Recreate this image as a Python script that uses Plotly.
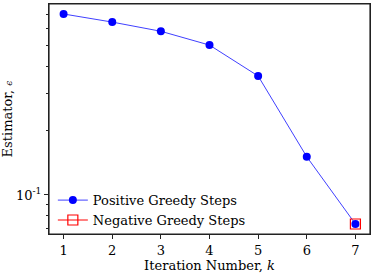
import plotly.graph_objects as go

iterations = [1, 2, 3, 4, 5, 6, 7]
positive_values = [0.705, 0.646, 0.585, 0.504, 0.361, 0.151, 0.0731]
negative_iters = [7]
negative_values = [0.0731]
y_tick_vals = [0.1]
y_tick_text = ["10<sup>-1</sup>"]
y_minor_vals = [0.07, 0.08, 0.09, 0.2, 0.3, 0.4, 0.5, 0.6, 0.7, 0.8]

font_family = "DejaVu Serif"

fig = go.Figure()
fig.add_trace(go.Scatter(
    x=iterations, y=positive_values, mode="lines+markers",
    name="Positive Greedy Steps",
    line=dict(color="rgba(0,0,255,0.75)", width=1),
    marker=dict(color="blue", size=8, symbol="circle"),
))
fig.add_trace(go.Scatter(
    x=negative_iters, y=negative_values, mode="lines+markers",
    name="Negative Greedy Steps",
    line=dict(color="red", width=1),
    marker=dict(color="red", size=10, symbol="square-open",
                line=dict(color="red", width=1.2)),
))

fig.add_shape(type="rect", xref="x domain", yref="y domain",
              x0=0, x1=1, y0=0, y1=1,
              line=dict(color="#222", width=1.2), fillcolor="rgba(0,0,0,0)",
              layer="above")

fig.update_layout(
    width=374, height=273,
    margin=dict(l=47, r=3, t=3, b=34),
    paper_bgcolor="white", plot_bgcolor="white",
    font=dict(family=font_family, size=13, color="black"),
    showlegend=True,
    legend=dict(x=0.012, y=-0.005, xanchor="left", yanchor="bottom",
                bgcolor="rgba(255,255,255,0)", font=dict(size=13),
                tracegroupgap=0),
    xaxis=dict(
        range=[0.7, 7.3], tickvals=iterations, ticks="outside", ticklen=4,
        tickcolor="#222",
        showline=True, mirror=True, linecolor="#222", linewidth=1.2,
        showgrid=False, zeroline=False,
        title=dict(text="Iteration Number, <i>k</i>", standoff=3,
                   font=dict(size=13)),
    ),
    yaxis=dict(
        type="log", range=[-1.183, -0.105],
        tickvals=y_tick_vals, ticktext=y_tick_text,
        ticks="outside", ticklen=4, tickcolor="#222",
        showline=True, mirror=True, linecolor="#222", linewidth=1.2,
        showgrid=False, zeroline=False,
        minor=dict(tickvals=y_minor_vals, ticks="outside", ticklen=2,
                   tickcolor="#222", showgrid=False),
        title=dict(text="Estimator, <i><span style='font-size:9px'>ϵ</span></i>",
                   standoff=4, font=dict(size=13)),
    ),
)

fig.write_html("out.html", config={"displayModeBar": False},
               post_script="document.body.style.margin='0px';")
